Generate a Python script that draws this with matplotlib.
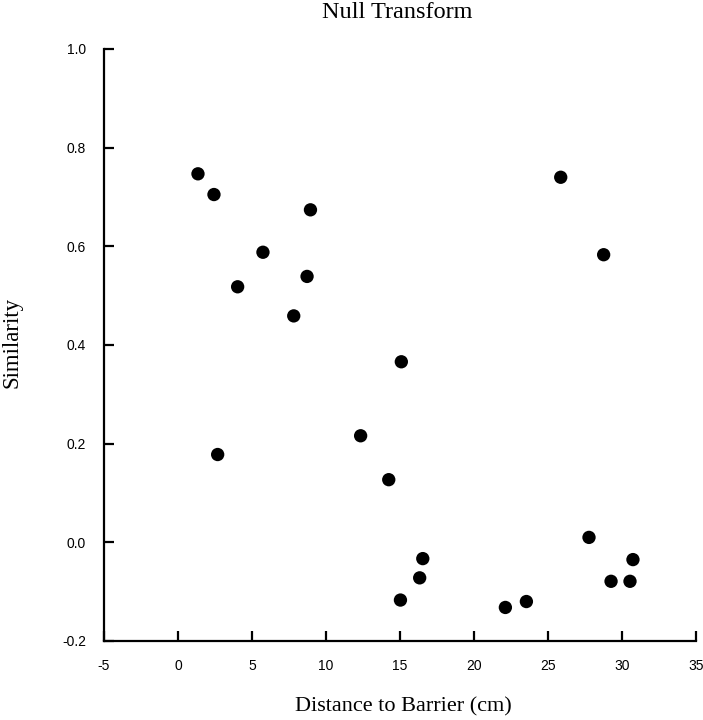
import matplotlib
matplotlib.use("Agg")
import matplotlib.pyplot as plt

# distance to barrier (cm) and similarity
distance = [1.35, 2.43, 4.03, 5.74, 2.68, 7.82, 8.72, 8.95, 12.34, 14.24, 15.09,
            15.03, 16.33, 16.54, 22.12, 23.54, 25.86, 28.76, 27.77, 29.26, 30.54, 30.74]
similarity = [0.747, 0.705, 0.518, 0.588, 0.178, 0.459, 0.539, 0.674, 0.216, 0.127, 0.366,
              -0.117, -0.072, -0.033, -0.132, -0.120, 0.740, 0.583, 0.010, -0.079, -0.079, -0.035]

x_ticks = [-5, 0, 5, 10, 15, 20, 25, 30, 35]
y_ticks = [-0.2, 0.0, 0.2, 0.4, 0.6, 0.8, 1.0]

fig = plt.figure(figsize=(7.03, 7.2), dpi=100)
ax = fig.add_axes([104 / 703, 1 - 641 / 720, 592 / 703, 592 / 720])

ax.scatter(distance, similarity, s=92, color="black", edgecolors="none", zorder=3)

ax.set_xlim(-5, 35)
ax.set_ylim(-0.2, 1.0)
ax.set_xticks(x_ticks)
ax.set_xticklabels([str(t) for t in x_ticks])
ax.set_yticks(y_ticks)
ax.set_yticklabels(["%.1f" % t for t in y_ticks])

for side in ["top", "right"]:
    ax.spines[side].set_visible(False)
for side in ["left", "bottom"]:
    ax.spines[side].set_linewidth(1.6)

ax.tick_params(direction="in", length=7.5, width=1.6, labelsize=10, pad=13)
for lab in ax.get_xticklabels() + ax.get_yticklabels():
    lab.set_fontfamily("Liberation Sans")

fig.text(397 / 703, 1 - 13 / 720, "Null Transform", ha="center", va="center",
         fontsize=17.5, family="Liberation Serif")
fig.text(403 / 703, 1 - 707 / 720, "Distance to Barrier (cm)", ha="center", va="center",
         fontsize=16, family="Liberation Serif")
fig.text(12 / 703, 1 - 342 / 720, "Similarity", ha="center", va="center",
         rotation=90, fontsize=16.5, family="Liberation Serif")

fig.savefig("out.png", dpi=100)
